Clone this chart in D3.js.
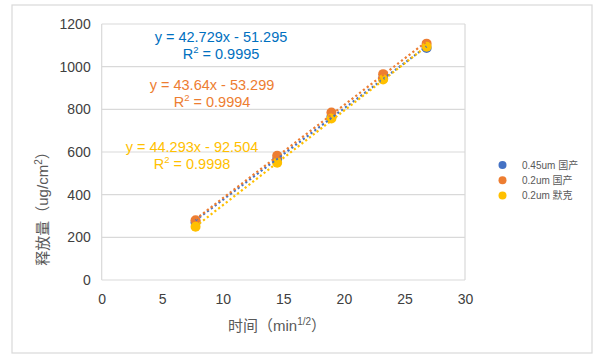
<!DOCTYPE html>
<html><head><meta charset="utf-8">
<script src="https://cdn.jsdelivr.net/npm/d3@7"></script>
<style>body{margin:0;background:#fff}svg{display:block}</style>
</head><body>
<svg id="c" width="600" height="358"></svg>
<script>
const xValues = [7.75, 14.49, 18.97, 23.24, 26.83];
const seriesNames = ["0.45um 国产", "0.2um 国产", "0.2um 默克"];
const blueValues = [270, 565, 765, 945, 1088];
const orangeValues = [280, 582, 785, 965, 1108];
const yellowValues = [250, 550, 757, 940, 1093];
const slopes = [42.729, 43.64, 44.293];
const intercepts = [-51.295, -53.299, -92.504];
const eqLabels = ["y = 42.729x - 51.295", "y = 43.64x - 53.299", "y = 44.293x - 92.504"];
const r2Labels = ["0.9995", "0.9994", "0.9998"];
const xTicks = [0, 5, 10, 15, 20, 25, 30];
const yTicks = [0, 200, 400, 600, 800, 1000, 1200];

const colors = ["#4472C4", "#ED7D31", "#FFC000"];
const textColors = ["#0070C0", "#ED7D31", "#FFC000"];
const FONT = "'Liberation Sans', Arial, 'Noto Sans CJK SC', sans-serif";
const allSeries = [blueValues, orangeValues, yellowValues];

const svg = d3.select("#c");
svg.append("rect").attr("x", 12).attr("y", 5).attr("width", 580).attr("height", 348)
  .attr("fill", "#fff").attr("stroke", "#d9d9d9").attr("stroke-width", 1.2);

const x = d3.scaleLinear().domain([0, 30]).range([101.7, 465]);
const y = d3.scaleLinear().domain([0, 1200]).range([280, 24]);

// gridlines
svg.append("g").selectAll("line").data(yTicks).join("line")
  .attr("x1", x(0)).attr("x2", x(30)).attr("y1", d => y(d)).attr("y2", d => y(d))
  .attr("stroke", "#d9d9d9").attr("stroke-width", 1.2);
svg.append("line").attr("x1", x(0)).attr("x2", x(0)).attr("y1", y(0)).attr("y2", y(1200))
  .attr("stroke", "#d9d9d9").attr("stroke-width", 1.2);
svg.append("line").attr("x1", x(30)).attr("x2", x(30)).attr("y1", y(0)).attr("y2", y(1200))
  .attr("stroke", "#d9d9d9").attr("stroke-width", 1.2);

// axes
const yAxis = svg.append("g").attr("transform", `translate(${x(0)},0)`)
  .call(d3.axisLeft(y).tickValues(yTicks).tickFormat(d3.format("d")).tickSize(0).tickPadding(11));
const xAxis = svg.append("g").attr("transform", `translate(0,${y(0)})`)
  .call(d3.axisBottom(x).tickValues(xTicks).tickFormat(d3.format("d")).tickSize(0).tickPadding(14));
[xAxis, yAxis].forEach(a => {
  a.select(".domain").remove();
  a.selectAll("text").attr("font-family", FONT).attr("font-size", 14).attr("fill", "#404040");
});

// markers
allSeries.forEach((vals, i) => {
  svg.append("g").selectAll("circle").data(vals).join("circle")
    .attr("cx", (d, j) => x(xValues[j])).attr("cy", d => y(d)).attr("r", 5)
    .attr("fill", colors[i]);
});

// trendlines
const xMin = d3.min(xValues), xMax = d3.max(xValues);
allSeries.forEach((vals, i) => {
  const f = t => slopes[i] * t + intercepts[i];
  svg.append("line")
    .attr("x1", x(xMin)).attr("y1", y(f(xMin)))
    .attr("x2", x(xMax)).attr("y2", y(f(xMax)))
    .attr("stroke", colors[i]).attr("stroke-width", 2.2)
    .attr("stroke-dasharray", "2.2,2.6");
});

// equations
const eqPos = [[221, 42, 59], [212, 90, 107], [192, 152, 169]];
eqLabels.forEach((lab, i) => {
  const [cx, y1, y2] = eqPos[i];
  svg.append("text").attr("x", cx).attr("y", y1).attr("text-anchor", "middle")
    .attr("font-family", FONT).attr("font-size", 14.5).attr("fill", textColors[i]).text(lab);
  const t = svg.append("text").attr("x", cx).attr("y", y2).attr("text-anchor", "middle")
    .attr("font-family", FONT).attr("font-size", 14.5).attr("fill", textColors[i]);
  t.append("tspan").text("R");
  t.append("tspan").attr("font-size", 9.5).attr("dy", -6).text("2");
  t.append("tspan").attr("dy", 6).text(" = " + r2Labels[i]);
});

// axis titles
const yt = svg.append("text").attr("transform", "translate(48,205) rotate(-90)")
  .attr("text-anchor", "middle").attr("font-family", FONT).attr("font-size", 15).attr("fill", "#595959");
yt.append("tspan").text("释放量（ug/cm");
yt.append("tspan").attr("font-size", 10).attr("dy", -6).text("2");
yt.append("tspan").attr("dy", 6).text("）");

const xt = svg.append("text").attr("x", 277).attr("y", 331)
  .attr("text-anchor", "middle").attr("font-family", FONT).attr("font-size", 15).attr("fill", "#595959");
xt.append("tspan").text("时间（min");
xt.append("tspan").attr("font-size", 10).attr("dy", -6).text("1/2");
xt.append("tspan").attr("dy", 6).text("）");

// legend
const lg = svg.append("g");
seriesNames.forEach((n, i) => {
  const ly = 165 + i * 15.3;
  lg.append("circle").attr("cx", 502.5).attr("cy", ly).attr("r", 4).attr("fill", colors[i]);
  lg.append("text").attr("x", 522).attr("y", ly + 3.5).attr("font-family", FONT)
    .attr("font-size", 10).attr("fill", "#595959").text(n);
});
</script>
</body></html>
